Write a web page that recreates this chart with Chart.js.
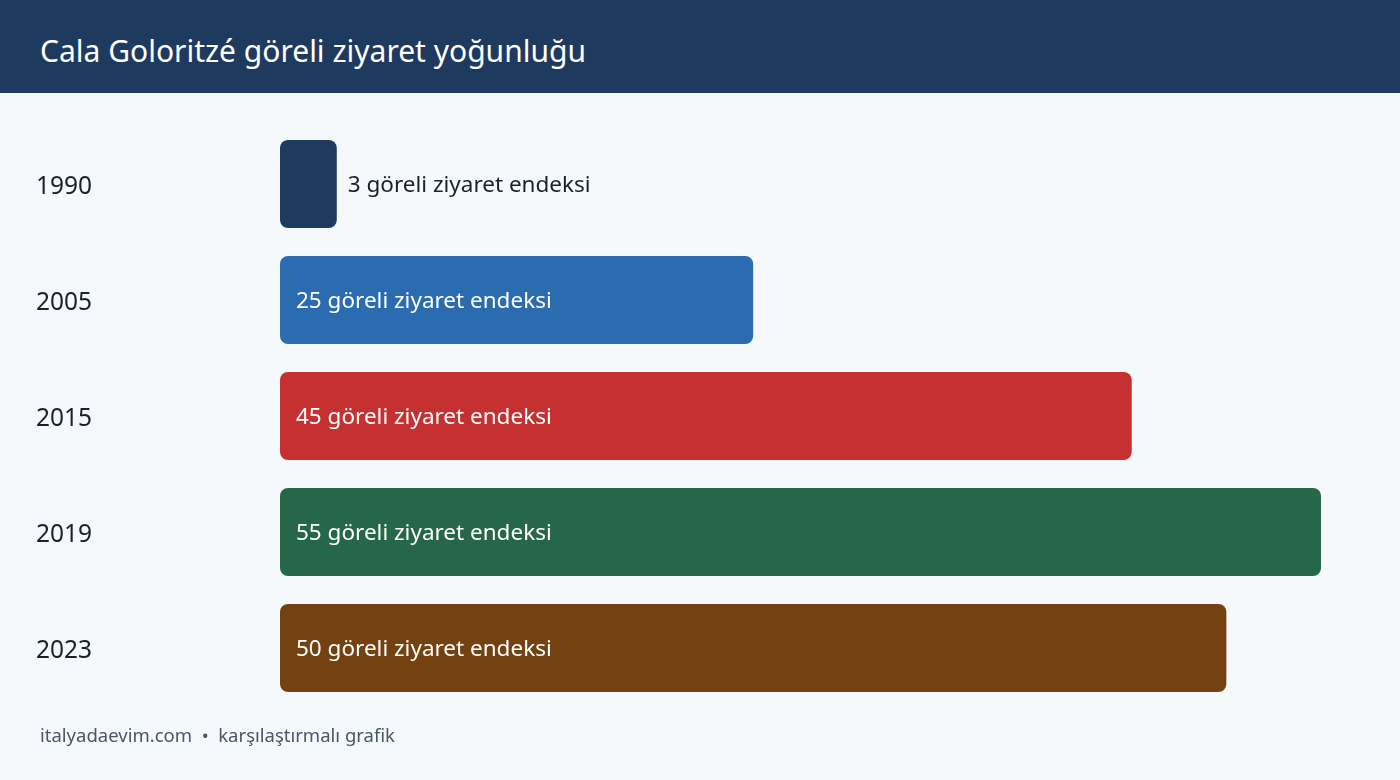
<!DOCTYPE html>
<html>
<head>
<meta charset="utf-8">
<script src="https://cdn.jsdelivr.net/npm/chart.js@4/dist/chart.umd.min.js"></script>
<style>
  html, body { margin: 0; padding: 0; }
  body {
    width: 1400px; height: 780px; overflow: hidden; position: relative;
    background: #f5f9fc;
    font-family: "Segoe UI", "Noto Sans", "Open Sans", sans-serif;
  }
  #header {
    position: absolute; left: 0; top: 0; width: 1400px; height: 93px;
    background: #1e3a5f; color: #fff;
    display: flex; align-items: center;
    box-sizing: border-box; padding-left: 40px; padding-top: 8px;
    font-size: 30px;
  }
  #wrap { position: absolute; left: 0; top: 93px; width: 1400px; height: 640px; }
  #footer {
    position: absolute; left: 40px; top: 722px;
    font-size: 18.5px; color: #4a5568;
  }
</style>
</head>
<body>
<div id="header">Cala Goloritzé göreli ziyaret yoğunluğu</div>
<div id="wrap"><canvas id="chart"></canvas></div>
<div id="footer">italyadaevim.com &nbsp;•&nbsp; karşılaştırmalı grafik</div>
<script>
const years = ["1990", "2005", "2015", "2019", "2023"];
const values = [3, 25, 45, 55, 50];
const barColors = ["#1e3a5f", "#2b6cb0", "#c53030", "#276749", "#744210"];
const unit = "göreli ziyaret endeksi";

const fontFamily = '"Segoe UI", "Noto Sans", "Open Sans", sans-serif';

// value text inside the bar when it fits, otherwise right after it
const valueLabels = {
  id: 'valueLabels',
  afterDatasetsDraw(chart) {
    const ctx = chart.ctx;
    const meta = chart.getDatasetMeta(0);
    ctx.save();
    ctx.font = '22.5px ' + fontFamily;
    ctx.textBaseline = 'middle';
    ctx.textAlign = 'left';
    meta.data.forEach((bar, i) => {
      const text = values[i] + ' ' + unit;
      const w = ctx.measureText(text).width;
      const barW = bar.x - bar.base;
      if (barW > w + 32) {
        ctx.fillStyle = '#ffffff';
        ctx.fillText(text, bar.base + 16, bar.y + 2);
      } else {
        ctx.fillStyle = '#1a202c';
        ctx.fillText(text, bar.x + 11, bar.y + 2);
      }
    });
    ctx.restore();
  }
};

new Chart(document.getElementById('chart'), {
  type: 'bar',
  data: {
    labels: years,
    datasets: [{
      data: values,
      backgroundColor: barColors,
      borderRadius: 8,
      borderSkipped: false,
      barPercentage: 88 / 116,
      categoryPercentage: 1
    }]
  },
  options: {
    indexAxis: 'y',
    responsive: true,
    maintainAspectRatio: false,
    animation: false,
    layout: { padding: { left: 36, right: 79, top: 33, bottom: 27 } },
    plugins: {
      legend: { display: false },
      tooltip: { enabled: false }
    },
    scales: {
      x: { display: false, min: 0, max: 55 },
      y: {
        grid: { display: false, drawTicks: false },
        border: { display: false },
        afterFit(scale) { scale.width = 244; },
        ticks: {
          crossAlign: 'far',
          labelOffset: 3,
          color: '#1a202c',
          font: { size: 24.5, family: fontFamily }
        }
      }
    }
  },
  plugins: [valueLabels]
});
</script>
</body>
</html>
